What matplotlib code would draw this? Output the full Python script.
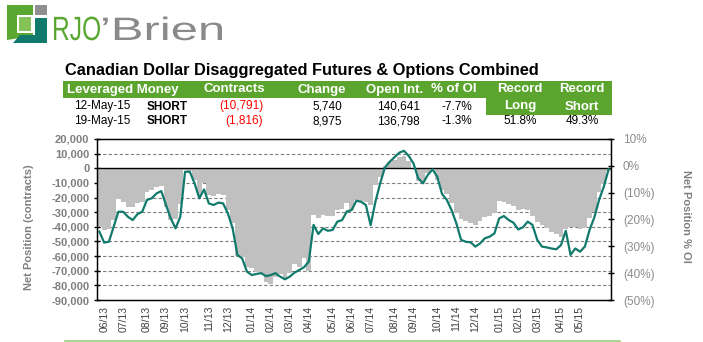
import matplotlib
matplotlib.use("Agg")
import matplotlib.pyplot as plt
from matplotlib.patches import Polygon, PathPatch
from matplotlib.textpath import TextPath
from matplotlib.font_manager import FontProperties
from matplotlib.transforms import Affine2D, IdentityTransform
import numpy as np
import pandas as pd

plt.rcParams["font.family"] = ["Liberation Sans", "DejaVu Sans"]

# Weekly Leveraged Money net position (contracts) and the same position as % of open interest
net_contracts = [
    -39900, -42000, -41700, -35300, -21200, -22800, -26200, -26700, -23500, -22800,
    -15900, -14800, -12500, -12100, -26700, -35300, -34900, -24400, -1100, -1600,
    -8000, -18200, -9800, -18200, -18700, -17800, -18200, -28500, -37600, -59900,
    -60400, -67200, -68300, -70600, -71800, -77400, -79000, -74000, -72200, -75200,
    -71800, -65400, -67200, -61500, -69900, -31900, -34200, -31900, -32600, -32600,
    -28500, -28000, -23500, -28500, -21600, -22100, -22800, -25000, -11400, -5700,
    1600, 4600, 5700, 8000, 8400, 5200, -700, -8400, -10300, -3000,
    -700, -8000, -14800, -17500, -23500, -30300, -34900, -35800, -37100, -38700,
    -35800, -33500, -32600, -30800, -22100, -22800, -24400, -25700, -28500, -28000,
    -28500, -32600, -36400, -38700, -41000, -43300, -44900, -47200, -41700, -40300,
    -39900, -41700, -41000, -34000, -30000, -16531, -10791, -1816,
]
pct_oi = [
    -24.5, -28.6, -28.3, -22.7, -17.1, -17.1, -19.0, -20.2, -18.0, -17.1,
    -12.7, -12.1, -10.3, -9.4, -14.6, -19.6, -23.3, -19.0, -2.2, -2.2,
    -6.5, -12.1, -8.8, -14.0, -14.6, -13.7, -14.0, -17.7, -23.3, -33.2,
    -34.5, -39.4, -40.7, -40.3, -40.0, -41.1, -40.7, -40.0, -41.3, -42.3,
    -41.3, -39.8, -38.8, -37.8, -35.7, -22.0, -25.4, -23.3, -24.2, -23.9,
    -20.8, -20.2, -17.0, -16.5, -13.0, -13.4, -14.6, -22.1, -13.4, -6.5,
    -0.6, 1.5, 3.2, 4.9, 5.6, 3.7, 0.9, -4.7, -6.5, -3.4,
    -1.3, -4.1, -10.5, -12.7, -16.5, -21.4, -27.6, -28.3, -28.5, -30.1,
    -28.9, -27.0, -26.4, -25.2, -19.6, -18.7, -20.2, -21.2, -23.7, -22.9,
    -20.8, -22.0, -27.6, -30.1, -30.4, -30.8, -31.1, -29.5, -24.2, -33.2,
    -30.8, -32.0, -30.1, -23.9, -19.2, -12.7, -7.7, -1.3,
]
first_week = "2013-05-28"
month_labels = ["06/13", "07/13", "08/13", "09/13", "10/13", "11/13", "12/13",
                "01/14", "02/14", "03/14", "04/14", "05/14", "06/14", "07/14",
                "08/14", "09/14", "10/14", "11/14", "12/14", "01/15", "02/15",
                "03/15", "04/15", "05/15"]

# Summary table
table_header = ["Leveraged Money", "Contracts", "Change", "Open Int.", "% of OI"]
report_dates = ["12-May-15", "19-May-15"]
report_side = ["SHORT", "SHORT"]
report_contracts = ["(10,791)", "(1,816)"]
report_change = ["5,740", "8,975"]
report_oi = ["140,641", "136,798"]
report_pct = ["-7.7%", "-1.3%"]
record_long = "51.8%"
record_short = "49.3%"

W, H = 703, 342
fig = plt.figure(figsize=(W / 100, H / 100), dpi=100)


def fx(x):
    return x / W


def fy(y):
    return 1 - y / H


GREEN = "#5ba52e"
LOGO_GREEN = "#5aa832"
TEAL = "#117a6c"


def fig_poly(pts, color):
    fig.add_artist(Polygon([(fx(a), fy(b)) for a, b in pts], closed=True,
                           transform=fig.transFigure, facecolor=color,
                           edgecolor="none", zorder=1))


def boxed_word(s, x0, x1, ytop, ybase, color):
    """Draw a word as outlines scaled to fill a pixel box (top-left origin)."""
    tp = TextPath((0, 0), s, size=100, prop=FontProperties(family="Liberation Sans"))
    bb = tp.get_extents()
    sx = (x1 - x0) / bb.width
    sy = (ybase - ytop) / bb.y1
    tr = Affine2D().translate(-bb.x0, 0).scale(sx, sy).translate(x0, H - ybase)
    fig.add_artist(PathPatch(tr.transform_path(tp), transform=IdentityTransform(),
                             facecolor=color, edgecolor="none", zorder=2))


# ---- logo ----
fig_poly([(7, 5), (33, 5), (33, 36), (7, 40)], LOGO_GREEN)
fig_poly([(17, 15), (33, 15), (33, 33), (17, 33)], "white")
fig_poly([(19, 17), (31, 17), (31, 31), (19, 31)], "#86c25a")
fig_poly([(35, 5), (47, 5), (47, 15), (35, 15)], "#8f8f8f")
fig_poly([(35, 18), (47, 18), (47, 43), (13, 43), (20, 35), (35, 35)], TEAL)
boxed_word("RJO", 54, 100, 16.5, 40, LOGO_GREEN)
boxed_word("\u2019Brien", 103, 222, 16.5, 40, "#8a8a8a")

# ---- title ----
fig.text(fx(65), fy(71), "Canadian Dollar Disaggregated Futures & Options Combined",
         fontsize=11.8, fontweight="bold", va="center", ha="left", color="black")

# ---- table ----
fig_poly([(63, 80.5), (612, 80.5), (612, 115), (486, 115), (486, 98), (63, 98)], GREEN)
hy = 89.5
hdr_kw = dict(color="white", fontsize=9.5, fontweight="bold", va="center", zorder=3)
fig.text(fx(67), fy(hy), table_header[0], ha="left", **hdr_kw)
fig.text(fx(234), fy(hy), table_header[1], ha="center", **hdr_kw)
fig.text(fx(322), fy(hy), table_header[2], ha="center", **hdr_kw)
fig.text(fx(395), fy(hy), table_header[3], ha="center", **hdr_kw)
fig.text(fx(454), fy(hy), table_header[4], ha="center", **hdr_kw)
fig.text(fx(520), fy(hy), "Record", ha="center", **hdr_kw)
fig.text(fx(520), fy(106.5), "Long", ha="center", **hdr_kw)
fig.text(fx(582), fy(hy), "Record", ha="center", **hdr_kw)
fig.text(fx(582), fy(106.5), "Short", ha="center", **hdr_kw)

row_y = [106.5, 121]
cell_kw = dict(fontsize=8.5, va="center", zorder=3)
for k, ry in enumerate(row_y):
    fig.text(fx(102), fy(ry), report_dates[k], ha="center", color="black", **cell_kw)
    fig.text(fx(147), fy(ry), report_side[k], ha="left", color="black",
             fontweight="bold", **cell_kw)
    fig.text(fx(263), fy(ry), report_contracts[k], ha="right", color="#ff0000", **cell_kw)
    fig.text(fx(342), fy(ry), report_change[k], ha="right", color="black", **cell_kw)
    fig.text(fx(420), fy(ry), report_oi[k], ha="right", color="black", **cell_kw)
    fig.text(fx(472), fy(ry), report_pct[k], ha="right", color="black", **cell_kw)
fig.text(fx(520), fy(121), record_long, ha="center", color="black", **cell_kw)
fig.text(fx(582), fy(121), record_short, ha="center", color="black", **cell_kw)

# ---- chart ----
left, right, top, bottom = 97, 611, 139, 300
ax = fig.add_axes([fx(left), fy(bottom), fx(right) - fx(left), fy(top) - fy(bottom)])
ax2 = ax.twinx()

n = len(net_contracts)
idx = np.arange(n)
weeks = pd.date_range(first_week, periods=n, freq="7D")
week_tags = list(weeks.strftime("%m/%y"))

ax.bar(idx, net_contracts, width=1.0, color="#c0c0c0", linewidth=0, zorder=2)
ax.set_xlim(-0.5, n - 0.5)
ax.set_ylim(-90000, 20000)
ax.set_yticks(np.arange(-90000, 20001, 10000))
ax.set_yticklabels([f"{v:,}" for v in range(-90000, 20001, 10000)])
for v in range(-80000, 20000, 10000):
    if v != 0:
        ax.axhline(v, color="#7f7f7f", lw=0.8, ls=(0, (3, 2)), zorder=1)
ax.axhline(0, color="black", lw=1.0, zorder=3)

# one label per month, at that month's first weekly report
tick_pos = [week_tags.index(lbl) for lbl in month_labels]
ax.set_xticks(tick_pos)
ax.set_xticklabels(month_labels, rotation=90, fontsize=7.5, color="#404040")
ax.tick_params(axis="x", length=0, pad=4)
ax.tick_params(axis="y", direction="inout", length=5, width=1, labelsize=8,
               labelcolor="#7f7f7f", pad=3)
for t in ax.get_yticklabels():
    t.set_fontweight("bold")
for s in ax.spines.values():
    s.set_color("black")
    s.set_linewidth(1.0)
ax.set_ylabel("Net Position (contracts)", fontsize=8, fontweight="bold", color="#7f7f7f")
ax.yaxis.set_label_coords(-0.123, 0.45)

ax2.plot(idx, pct_oi, color=TEAL, lw=1.6, zorder=4)
ax2.set_ylim(-50, 10)
ax2.set_yticks(np.arange(-50, 11, 10))
ax2.set_yticklabels([f"({abs(v)}%)" if v < 0 else f"{v}%" for v in range(-50, 11, 10)])
ax2.tick_params(axis="y", direction="inout", length=5, width=1, labelsize=8.5,
                labelcolor="#8c8c8c", pad=6)
ax2.set_ylabel("Net Position % OI", fontsize=8, fontweight="bold", color="#7f7f7f",
               rotation=270)
ax2.yaxis.set_label_coords(1.155, 0.52)

# thin green rule along the bottom
fig.add_artist(plt.Line2D([fx(65), fx(620)], [fy(340.5), fy(340.5)], color="#9ccc80",
                          lw=1.2, transform=fig.transFigure))

fig.savefig("out.png", dpi=100, facecolor="white")
